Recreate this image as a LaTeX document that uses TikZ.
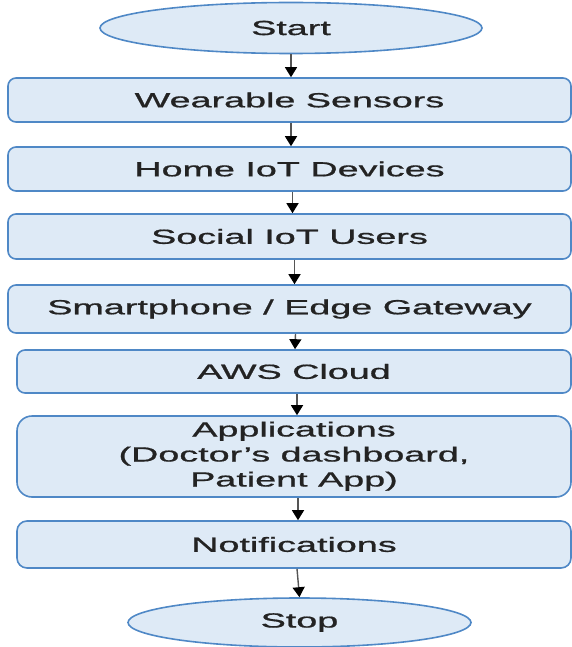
\documentclass[tikz,border=0pt]{standalone}
\usepackage{fontspec}
\setmainfont{Liberation Sans}
\newfontfamily\labelfont[FakeBold=0.7]{Liberation Sans}
\usetikzlibrary{shapes.geometric,arrows.meta}

\definecolor{boxfill}{HTML}{DEEAF6}
\definecolor{boxline}{HTML}{4F88C6}
\definecolor{txt}{HTML}{232323}
\definecolor{shaft}{HTML}{555555}

% labels are set in a horizontally widened sans face
\newcommand\widetext[1]{\scalebox{1.84}[1]{#1}}

\begin{document}
\begin{tikzpicture}[x=1pt,y=-1pt,
  stepbox/.style={rectangle, draw=boxline, fill=boxfill, line width=1.6pt,
    rounded corners=8pt, inner sep=0pt, text=txt,
    font=\labelfont\fontsize{20.5}{25}\selectfont},
  terminal/.style={ellipse, draw=boxline, fill=boxfill, line width=1.6pt,
    inner sep=0pt, text=txt, font=\labelfont\fontsize{20.5}{25}\selectfont},
  flow/.style={draw=shaft, line width=1.4pt,
    -{Triangle[width=12pt,length=10pt,color=black]}}]

\useasboundingbox (0,0) rectangle (572,647);

\node[terminal, minimum width=382pt, minimum height=51pt] (start) at (291,28) {\widetext{Start}};
\node[stepbox, minimum width=563pt, minimum height=44pt] (wear) at (289.5,100) {\widetext{Wearable Sensors}};
\node[stepbox, minimum width=563pt, minimum height=44pt] (home) at (289.5,169) {\widetext{Home IoT Devices}};
\node[stepbox, minimum width=563pt, minimum height=45pt] (social) at (289.5,236.5) {\widetext{Social IoT Users}};
\node[stepbox, minimum width=563pt, minimum height=48pt] (gate) at (289.5,309) {\widetext{Smartphone / Edge Gateway}};
\node[stepbox, minimum width=554pt, minimum height=43pt] (aws) at (294,371.5) {\widetext{AWS Cloud}};
\node[stepbox, minimum width=554pt, minimum height=81pt, rounded corners=15pt] (apps) at (294,456.5)
  {\widetext{\begin{tabular}{@{}c@{}}Applications\\(Doctor’s dashboard,\\Patient App)\end{tabular}}};
\node[stepbox, minimum width=554pt, minimum height=47pt, rounded corners=10pt] (notif) at (294,544.5) {\widetext{Notifications}};
\node[terminal, minimum width=343pt, minimum height=49pt] (stop) at (299.5,622.5) {\widetext{Stop}};

\draw[flow] (start.south) -- ([xshift=1.5pt]wear.north);
\draw[flow] ([xshift=1.5pt]wear.south) -- ([xshift=1.5pt]home.north);
\draw[flow] ([xshift=3pt]home.south) -- ([xshift=3pt]social.north);
\draw[flow] ([xshift=5pt]social.south) -- ([xshift=5pt]gate.north);
\draw[flow] ([xshift=6pt]gate.south) -- ([xshift=1pt]aws.north);
\draw[flow] ([xshift=3pt]aws.south) -- ([xshift=3pt]apps.north);
\draw[flow] ([xshift=4pt]apps.south) -- ([xshift=4pt]notif.north);
\draw[flow] ([xshift=3pt]notif.south) -- (stop.north);
\end{tikzpicture}
\end{document}
